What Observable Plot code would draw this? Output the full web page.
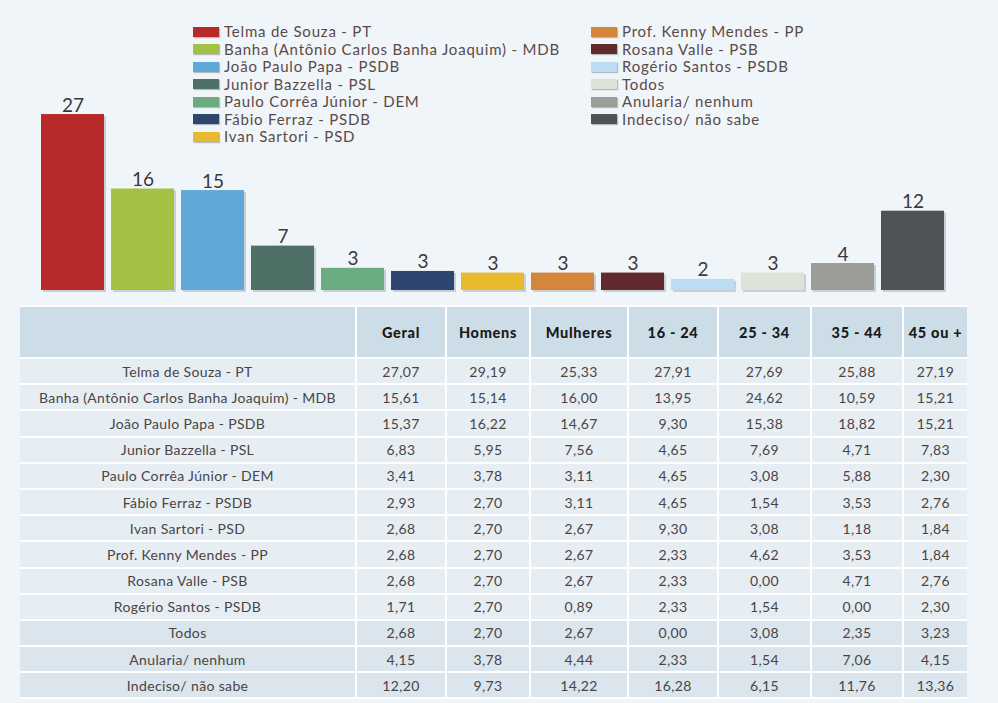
<!DOCTYPE html>
<html><head><meta charset="utf-8">
<script src="https://cdn.jsdelivr.net/npm/d3@7"></script>
<script src="https://cdn.jsdelivr.net/npm/@observablehq/plot@0.6"></script>
<style>
body{margin:0;background:#f0f5f9;font-family:Lato,"Open Sans",sans-serif;}
#wrap{position:relative;width:998px;height:703px;overflow:hidden;}
#chart{position:absolute;left:0;top:0;}
.legcol{position:absolute;top:23px;}
.legrow{height:17.5px;line-height:17.5px;font-size:15px;letter-spacing:0.8px;color:#5a4a47;white-space:nowrap;display:flex;align-items:center;}
.sw{display:inline-block;width:26px;height:10px;margin-right:5px;box-shadow:1px 1px 1px rgba(120,130,140,0.5);}
#tbl{position:absolute;left:20px;top:305px;border-collapse:collapse;table-layout:fixed;font-size:14px;letter-spacing:0.35px;color:#4a4444;}
#tbl td,#tbl th{border:2.5px solid #fff;text-align:center;padding:0;}
#tbl th{background:#cddde8;height:50px;font-weight:900;color:#1a1a1a;font-size:14.5px;letter-spacing:0.7px;}
#tbl td{background:#e6eef4;height:24.2px;}
#tbl tr.dk td{background:#dbe5ed;}
#tbl tr:first-child th{border-top:none;}
#tbl th:first-child,#tbl td:first-child{border-left:none;}
#tbl th:last-child,#tbl td:last-child{border-right:none;}
</style></head><body>
<div id="wrap"><div id="chart"></div><div id="leg1" class="legcol" style="left:193px"></div><div id="leg2" class="legcol" style="left:591px"></div><table id="tbl"></table></div>
<script>
const candidates = ["Telma de Souza - PT","Banha (Antônio Carlos Banha Joaquim) - MDB","João Paulo Papa - PSDB","Junior Bozzella - PSL","Paulo Corrêa Júnior - DEM","Fábio Ferraz - PSDB","Ivan Sartori - PSD","Prof. Kenny Mendes - PP","Rosana Valle - PSB","Rogério Santos - PSDB","Todos","Anularia/ nenhum","Indeciso/ não sabe"];
const legendLabels = ["Telma de Souza - PT","Banha (Antônio Carlos Banha Joaquim) - MDB","João Paulo Papa - PSDB","Junior Bazzella - PSL","Paulo Corrêa Júnior - DEM","Fábio Ferraz - PSDB","Ivan Sartori - PSD","Prof. Kenny Mendes - PP","Rosana Valle - PSB","Rogério Santos - PSDB","Todos","Anularia/ nenhum","Indeciso/ não sabe"];
const tableLabels = ["Telma de Souza - PT","Banha (Antônio Carlos Banha Joaquim) - MDB","João Paulo Papa - PSDB","Junior Bazzella - PSL","Paulo Corrêa Júnior - DEM","Fábio Ferraz - PSDB","Ivan Sartori - PSD","Prof. Kenny Mendes - PP","Rosana Valle - PSB","Rogério Santos - PSDB","Todos","Anularia/ nenhum","Indeciso/ não sabe"];
const colors = ["#b8292a","#a3c243","#5fa8d8","#4e7067","#6aac80","#2e4570","#e6b92e","#d4873a","#632a2d","#bcdcf4","#dde3d6","#9c9d97","#505356"];
const barLabels = ["27","16","15","7","3","3","3","3","3","2","3","4","12"];
const columns = ["Geral","Homens","Mulheres","16 - 24","25 - 34","35 - 44","45 ou +"];
const geral    = [27.07,15.61,15.37,6.83,3.41,2.93,2.68,2.68,2.68,1.71,2.68,4.15,12.20];
const homens   = [29.19,15.14,16.22,5.95,3.78,2.70,2.70,2.70,2.70,2.70,2.70,3.78,9.73];
const mulheres = [25.33,16.00,14.67,7.56,3.11,3.11,2.67,2.67,2.67,0.89,2.67,4.44,14.22];
const age16_24 = [27.91,13.95,9.30,4.65,4.65,4.65,9.30,2.33,2.33,2.33,0.00,2.33,16.28];
const age25_34 = [27.69,24.62,15.38,7.69,3.08,1.54,3.08,4.62,0.00,1.54,3.08,1.54,6.15];
const age35_44 = [25.88,10.59,18.82,4.71,5.88,3.53,1.18,3.53,4.71,0.00,2.35,7.06,11.76];
const age45    = [27.19,15.21,15.21,7.83,2.30,2.76,1.84,1.84,2.76,2.30,3.23,4.15,13.36];

const data = candidates.map((c,i)=>({name:c, value:geral[i], label:barLabels[i], color:colors[i]}));

const chart = Plot.plot({
  width: 998, height: 295,
  marginLeft: 38, marginRight: 52, marginTop: 95, marginBottom: 5,
  style: {background: "transparent", overflow: "visible"},
  x: {domain: candidates, paddingInner: 0.1, paddingOuter: 0, axis: null},
  y: {domain: [0, 30], axis: null},
  marks: [
    Plot.barY(data, {x: "name", y: "value", fill: "#aeb6bf", fillOpacity: 0.6, dx: 2, dy: 2}),
    Plot.barY(data, {x: "name", y: "value", fill: "color"}),
    Plot.text(data, {x: "name", y: "value", text: "label", dy: -3, lineAnchor: "bottom", fontSize: 19, fill: "#3a3a3a", fontFamily: "Lato, sans-serif"})
  ]
});
document.getElementById("chart").appendChild(chart);

function legRow(i){
  const r = document.createElement("div"); r.className = "legrow";
  const s = document.createElement("span"); s.className = "sw"; s.style.background = colors[i];
  r.appendChild(s); r.appendChild(document.createTextNode(legendLabels[i]));
  return r;
}
for (let i=0;i<7;i++) document.getElementById("leg1").appendChild(legRow(i));
for (let i=7;i<13;i++) document.getElementById("leg2").appendChild(legRow(i));

const colWidths = [336,90,84,98,90,93,92,64];
const tbl = document.getElementById("tbl");
const cg = document.createElement("colgroup");
colWidths.forEach(w=>{const c=document.createElement("col"); c.style.width=w+"px"; cg.appendChild(c);});
tbl.appendChild(cg);
tbl.style.width = d3.sum(colWidths)+"px";
const hr = document.createElement("tr");
["",...columns].forEach(h=>{const th=document.createElement("th"); th.textContent=h; hr.appendChild(th);});
tbl.appendChild(hr);
const fmt = v => v.toFixed(2).replace(".",",");
const series = [geral,homens,mulheres,age16_24,age25_34,age35_44,age45];
tableLabels.forEach((lab,i)=>{
  const tr = document.createElement("tr");
  if (i>=10) tr.className = "dk";
  const td0 = document.createElement("td"); td0.textContent = lab; tr.appendChild(td0);
  series.forEach(s=>{const td=document.createElement("td"); td.textContent=fmt(s[i]); tr.appendChild(td);});
  tbl.appendChild(tr);
});
</script>
</body></html>
